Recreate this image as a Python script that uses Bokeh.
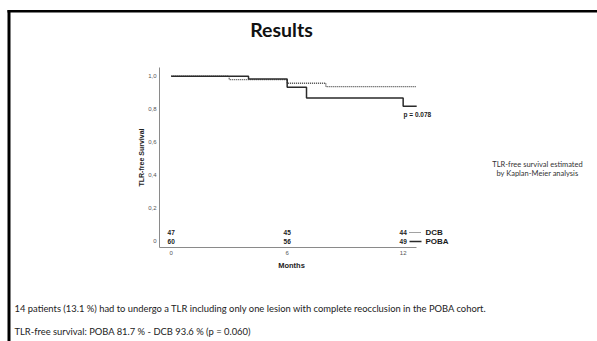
from bokeh.plotting import figure
from bokeh.models import Label, BoxAnnotation, FixedTicker, Range1d, ColumnDataSource, LinearAxis
from bokeh.core.properties import value
from bokeh.embed import file_html
from bokeh.resources import INLINE

# ---- data ----
poba_months = [0, 4, 6, 7, 12, 12.7]
poba_surv = [1.0, 0.983, 0.933, 0.867, 0.817, 0.817]
dcb_months = [0, 3, 6, 8, 12.7]
dcb_surv = [1.0, 0.979, 0.957, 0.936, 0.936]
risk_months = [0, 6, 12]
dcb_at_risk = [47, 45, 44]
poba_at_risk = [60, 56, 49]
y_ticks = [0, 0.2, 0.4, 0.6, 0.8, 1.0]
y_tick_labels = ["0", "0,2", "0,4", "0,6", "0,8", "1,0"]
x_ticks = [0, 6, 12]
x_tick_labels = ["0", "6", "12"]
series_names = ["DCB", "POBA"]
p_value_text = "p = 0.078"
title_text = "Results"
side_text = ["TLR-free survival estimated", "by Kaplan-Meier analysis"]
bottom_text = [
    "14 patients (13.1 %) had to undergo a TLR including only one lesion with complete reocclusion in the POBA cohort.",
    "TLR-free survival: POBA 81.7 % - DCB 93.6 % (p = 0.060)",
]

# ---- layout (page pixels) ----
W, H = 597, 341
X0, XPX = 170.7, 19.33                   # page x of month 0, px per month
Y0, YPX = 240.0, 164.3                   # page y of survival 0, px per unit
AX_LEFT, AX_BOTTOM, AX_TOP, AX_RIGHT = 159, 247, 67, 416


def X(px):
    return (px - X0) / XPX


def Y(py):
    return (Y0 - py) / YPX


p = figure(width=W, height=H, output_backend="svg", toolbar_location=None,
           x_range=Range1d(X(0), X(W)), y_range=Range1d(Y(H), Y(0)),
           x_axis_location=None, y_axis_location=None,
           min_border_left=0, min_border_right=0, min_border_top=0, min_border_bottom=0)
p.outline_line_color = None
p.xgrid.visible = False
p.ygrid.visible = False
p.background_fill_color = "white"
p.border_fill_color = "white"

yax = LinearAxis(fixed_location=X(AX_LEFT))
xax = LinearAxis(fixed_location=Y(AX_BOTTOM))
p.add_layout(yax, "left")
p.add_layout(xax, "below")

for ax in (xax, yax):
    ax.axis_line_color = "#8a8a8a"
    ax.axis_line_width = 1
    ax.major_tick_line_color = None
    ax.minor_tick_line_color = None
    ax.major_tick_out = 0
    ax.major_tick_in = 0
    ax.minor_tick_out = 0
    ax.minor_tick_in = 0
    ax.major_label_text_font = "Liberation Sans"
    ax.major_label_text_font_size = "6px"
    ax.major_label_text_color = "#555555"

yax.ticker = FixedTicker(ticks=y_ticks)
yax.major_label_overrides = {t: l for t, l in zip(y_ticks, y_tick_labels)}
yax.bounds = (Y(AX_BOTTOM), Y(AX_TOP))
yax.major_label_standoff = 3
yax.axis_label = "TLR-free Survival"
yax.axis_label_text_font = "Liberation Sans"
yax.axis_label_text_font_style = "bold"
yax.axis_label_text_font_size = "7px"
yax.axis_label_text_color = "#222222"
yax.axis_label_standoff = 0

xax.ticker = FixedTicker(ticks=x_ticks)
xax.major_label_overrides = {t: l for t, l in zip(x_ticks, x_tick_labels)}
xax.bounds = (X(AX_LEFT), X(AX_RIGHT))
xax.major_label_standoff = 3

# ---- KM curves ----
p.step(dcb_months, dcb_surv, mode="after", line_color="#444444", line_width=1.3,
       line_dash="1 1")
p.step(poba_months, poba_surv, mode="after", line_color="#2a2a2a", line_width=1.5)

# ---- numbers at risk ----
row_dcb, row_poba = Y(232), Y(241)
risk_src = ColumnDataSource(dict(
    x=risk_months + risk_months,
    y=[row_dcb] * len(risk_months) + [row_poba] * len(risk_months),
    t=[str(v) for v in dcb_at_risk] + [str(v) for v in poba_at_risk],
))
p.text(x="x", y="y", text="t", source=risk_src, text_font=value("Liberation Sans"),
       text_font_style="bold", text_font_size="6.5px", text_align="center",
       text_baseline="middle", text_color="#1a1a1a")

# legend keys
p.segment(x0=[X(409)], y0=[row_dcb], x1=[X(421)], y1=[row_dcb],
          line_color="#444444", line_width=1.2, line_dash="1 1")
p.segment(x0=[X(409)], y0=[row_poba], x1=[X(421)], y1=[row_poba],
          line_color="#2a2a2a", line_width=1.5)
p.text(x=[X(425), X(425)], y=[row_dcb, row_poba], text=series_names,
       text_font=value("Liberation Sans"), text_font_style="bold",
       text_font_size="8px", text_align="left", text_baseline="middle",
       text_color="#1a1a1a")

p.text(x=[X(403)], y=[Y(114)], text=[p_value_text], text_font=value("Liberation Sans"),
       text_font_style="bold", text_font_size="6.5px", text_align="left",
       text_baseline="middle", text_color="#1a1a1a")

# ---- slide texts ----
p.add_layout(Label(x=X(291), y=Y(265), text="Months", text_font="Liberation Sans",
                   text_font_style="bold", text_font_size="7.5px", text_align="center",
                   text_baseline="middle", text_color="#222222"))
p.add_layout(Label(x=X(281), y=Y(29), text=title_text, text_font="Lato",
                   text_font_style="bold", text_font_size="19.5px", text_align="center",
                   text_baseline="middle", text_color="#111111"))
for i, line in enumerate(side_text):
    p.add_layout(Label(x=X(537), y=Y(164 + 9 * i), text=line, text_font="Lato",
                       text_font_size="7.5px", text_align="center",
                       text_baseline="middle", text_color="#333333"))
for py, line in zip([308, 331], bottom_text):
    p.add_layout(Label(x=X(14), y=Y(py), text=line, text_font="Lato",
                       text_font_size="9.4px", text_align="left",
                       text_baseline="middle", text_color="#222222"))

# slide frame
p.add_layout(BoxAnnotation(left=X(7), right=X(10), top=Y(9.5), bottom=Y(345),
                           fill_color="black", fill_alpha=1, line_color=None))
p.add_layout(BoxAnnotation(left=X(7), right=X(600), top=Y(9.5), bottom=Y(12),
                           fill_color="black", fill_alpha=1, line_color=None))

open("out.html", "w").write(file_html(p, INLINE))
